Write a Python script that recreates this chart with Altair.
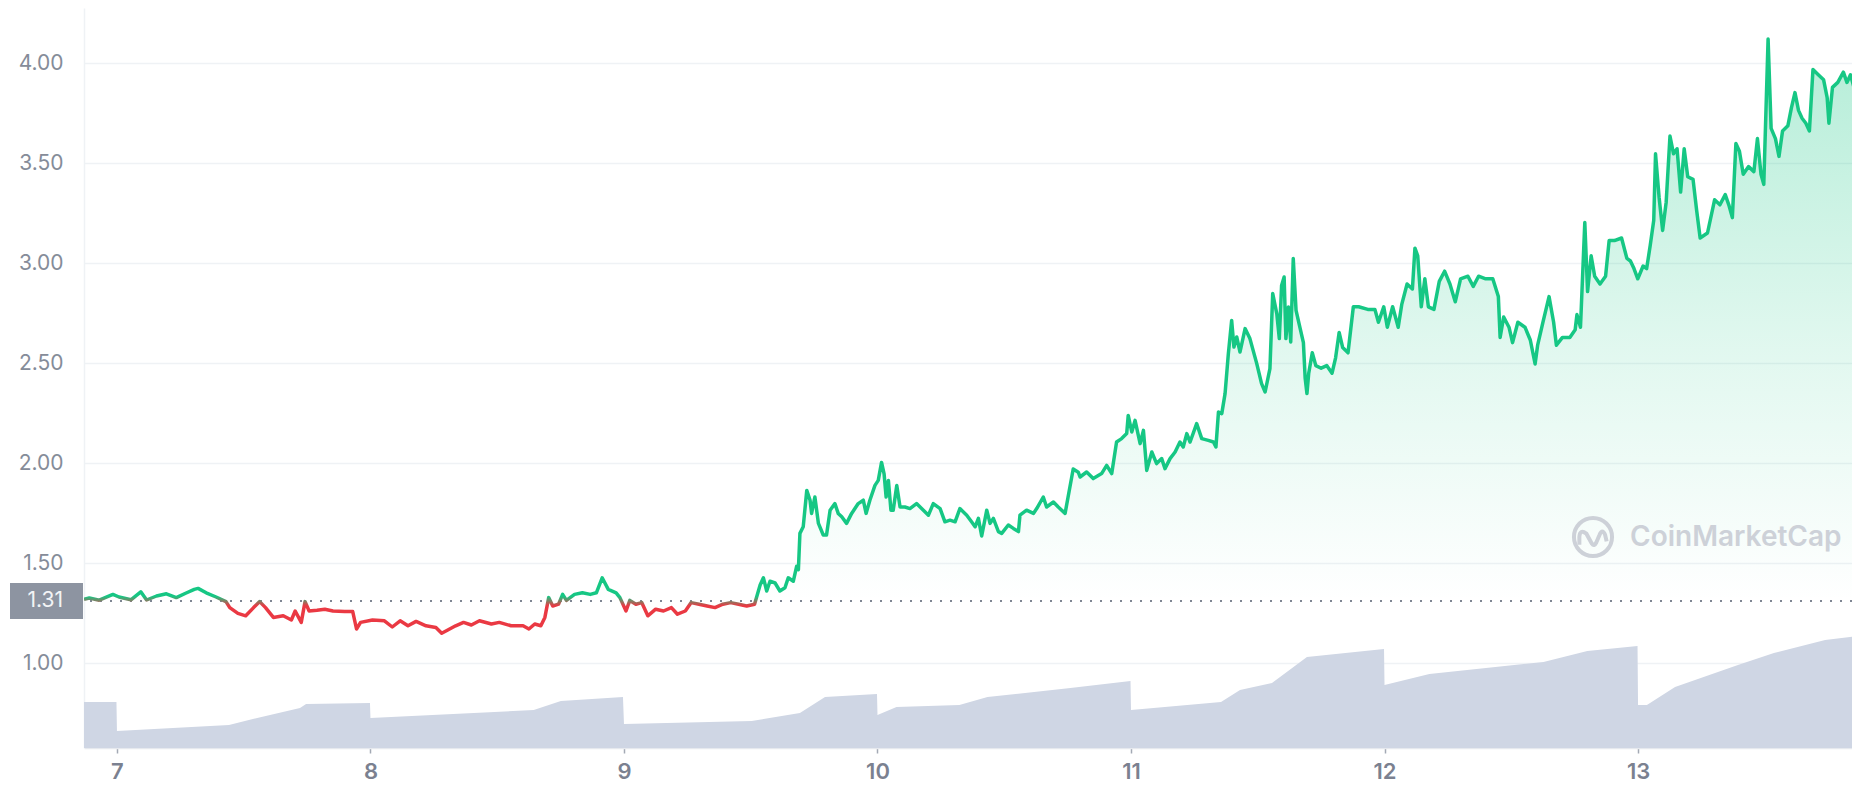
import altair as alt
import pandas as pd

# ---------------- data ----------------
days = [
    6.870, 6.891, 6.930, 6.984, 7.008, 7.055, 7.094, 7.117, 7.156, 7.195, 7.234, 7.273, 7.305, 7.320,
    7.352, 7.391, 7.430, 7.445, 7.477, 7.508, 7.539, 7.563, 7.586, 7.617, 7.656, 7.688, 7.703, 7.727,
    7.742, 7.758, 7.789, 7.820, 7.852, 7.898, 7.930, 7.945, 7.961, 8.008, 8.055, 8.086, 8.117, 8.148,
    8.180, 8.219, 8.258, 8.281, 8.305, 8.336, 8.367, 8.398, 8.430, 8.477, 8.508, 8.555, 8.602, 8.625,
    8.648, 8.672, 8.688, 8.703, 8.719, 8.742, 8.758, 8.773, 8.805, 8.836, 8.867, 8.891, 8.914, 8.938,
    8.969,
    8.984, 9.008, 9.023, 9.047, 9.070, 9.094, 9.125, 9.156, 9.187, 9.211, 9.242, 9.265, 9.296, 9.328,
    9.359, 9.390, 9.421, 9.452, 9.484, 9.515,
    9.537, 9.550, 9.563, 9.576, 9.596, 9.615, 9.635, 9.648, 9.668, 9.681, 9.688, 9.694, 9.707, 9.721,
    9.734, 9.740, 9.753, 9.767, 9.786, 9.799, 9.813, 9.832, 9.845, 9.859, 9.878, 9.898, 9.924, 9.944,
    9.955, 9.970, 9.990, 10.003, 10.016, 10.026, 10.034, 10.043, 10.053, 10.062, 10.076, 10.089,
    10.108, 10.128, 10.154, 10.181, 10.201, 10.220, 10.247, 10.266, 10.286, 10.306, 10.325, 10.352,
    10.371, 10.385, 10.398, 10.411, 10.431, 10.444, 10.457, 10.477, 10.490, 10.516, 10.536, 10.556,
    10.562, 10.588, 10.615, 10.628, 10.654, 10.667, 10.694, 10.713, 10.740, 10.759, 10.772, 10.792,
    10.799, 10.825, 10.851, 10.884, 10.904, 10.924, 10.943, 10.963, 10.983, 10.989, 11.003, 11.016,
    11.036, 11.049, 11.062, 11.082, 11.101, 11.121, 11.134, 11.154, 11.174, 11.193, 11.206, 11.220,
    11.233, 11.259, 11.279, 11.305, 11.325, 11.335, 11.345, 11.358, 11.371, 11.384, 11.397, 11.406,
    11.417, 11.430, 11.450, 11.469, 11.496, 11.515, 11.529, 11.548, 11.559, 11.575, 11.585, 11.594,
    11.604, 11.611, 11.621, 11.630, 11.640, 11.651,
    11.666, 11.680, 11.687, 11.694, 11.701, 11.715, 11.729, 11.750, 11.772, 11.793, 11.807, 11.821,
    11.835, 11.856, 11.877, 11.898, 11.934, 11.962, 11.976, 11.997, 12.011, 12.032, 12.054, 12.068,
    12.089, 12.110, 12.120, 12.131, 12.145, 12.159, 12.173, 12.195, 12.216, 12.237, 12.258, 12.279,
    12.300, 12.329, 12.350, 12.371, 12.399, 12.427, 12.449, 12.456, 12.470, 12.491, 12.505, 12.526,
    12.554, 12.575, 12.594, 12.604, 12.625, 12.649, 12.667, 12.678, 12.702, 12.731, 12.752, 12.759,
    12.773, 12.790, 12.801, 12.815, 12.829, 12.850, 12.872, 12.886, 12.907, 12.935, 12.956, 12.970,
    12.984, 12.999, 13.020, 13.034, 13.048, 13.062, 13.069, 13.083, 13.097, 13.111, 13.126, 13.140,
    13.154, 13.168, 13.182, 13.196, 13.217, 13.231, 13.245, 13.274, 13.302, 13.323, 13.344, 13.358,
    13.372, 13.386, 13.400, 13.415, 13.436, 13.457, 13.471, 13.485, 13.496, 13.513, 13.525, 13.542,
    13.556, 13.570, 13.591, 13.605, 13.619, 13.633, 13.647, 13.662, 13.676, 13.690, 13.711, 13.732,
    13.746, 13.753, 13.767, 13.788, 13.810, 13.824, 13.838, 13.852, 13.866,
]

price = [
    1.318, 1.325, 1.314, 1.343, 1.330, 1.316, 1.356, 1.315, 1.335, 1.346, 1.327, 1.350, 1.368, 1.373,
    1.351, 1.330, 1.307, 1.277, 1.248, 1.236, 1.277, 1.307, 1.277, 1.228, 1.236, 1.215, 1.260, 1.203,
    1.307, 1.260, 1.264, 1.269, 1.260, 1.257, 1.257, 1.170, 1.203, 1.215, 1.211, 1.180, 1.211, 1.186,
    1.208, 1.186, 1.178, 1.149, 1.165, 1.186, 1.203, 1.190, 1.211, 1.195, 1.203, 1.186, 1.186, 1.170,
    1.195, 1.186, 1.228, 1.327, 1.285, 1.294, 1.343, 1.313, 1.343, 1.351, 1.343, 1.351, 1.426, 1.368,
    1.351,
    1.327, 1.260, 1.313, 1.294, 1.302, 1.236, 1.269, 1.260, 1.277, 1.244, 1.260, 1.302, 1.294, 1.285,
    1.277, 1.294, 1.302, 1.294, 1.285, 1.294,
    1.390, 1.426, 1.360, 1.409, 1.400, 1.360, 1.376, 1.426, 1.409, 1.483, 1.467, 1.648, 1.681, 1.863,
    1.814, 1.748, 1.830, 1.698, 1.640, 1.640, 1.764, 1.797, 1.748, 1.731, 1.698, 1.748, 1.797, 1.814,
    1.748, 1.814, 1.888, 1.913, 2.003, 1.946, 1.830, 1.913, 1.764, 1.764, 1.888, 1.780,
    1.780, 1.772, 1.797, 1.764, 1.739, 1.797, 1.772, 1.706, 1.714, 1.706, 1.772, 1.739,
    1.706, 1.681, 1.723, 1.635, 1.764, 1.698, 1.723, 1.657, 1.648, 1.690, 1.673, 1.657,
    1.739, 1.764, 1.748, 1.772, 1.830, 1.780, 1.805, 1.780, 1.748, 1.880, 1.970, 1.954,
    1.930, 1.955, 1.922, 1.947, 1.988, 1.947, 2.105, 2.122, 2.147, 2.238, 2.155, 2.213,
    2.097, 2.163, 1.963, 2.055, 1.997, 2.022, 1.972, 2.022, 2.055, 2.105, 2.080, 2.147,
    2.105, 2.197, 2.122, 2.113, 2.105, 2.080, 2.255, 2.247, 2.347, 2.547, 2.713, 2.580,
    2.630, 2.555, 2.672, 2.622, 2.497, 2.397, 2.355, 2.472, 2.847, 2.747, 2.622, 2.888,
    2.930, 2.622, 2.780, 2.605, 3.022, 2.763,
    2.679, 2.602, 2.423, 2.347, 2.449, 2.551, 2.487, 2.474, 2.487, 2.449, 2.526, 2.653,
    2.577, 2.551, 2.781, 2.781, 2.768, 2.768, 2.704, 2.781, 2.679, 2.781, 2.679, 2.793,
    2.895, 2.870, 3.074, 3.036, 2.781, 2.921, 2.781, 2.768, 2.908, 2.959, 2.895, 2.806,
    2.921, 2.934, 2.883, 2.934, 2.921, 2.921, 2.832, 2.628, 2.730, 2.679, 2.602, 2.704,
    2.679, 2.615, 2.495, 2.589, 2.704, 2.832, 2.704, 2.589, 2.628, 2.628, 2.666, 2.742,
    2.679, 3.202, 2.857, 3.036, 2.934, 2.895, 2.934, 3.112, 3.112, 3.125, 3.023, 3.010,
    2.972, 2.921, 2.985, 2.972, 3.087, 3.214, 3.546, 3.329, 3.163, 3.304, 3.635, 3.546,
    3.571, 3.355, 3.571, 3.431, 3.418, 3.265, 3.125, 3.150, 3.316, 3.291, 3.342, 3.291,
    3.227, 3.597, 3.559, 3.444, 3.482, 3.457, 3.622, 3.444, 3.393, 4.120, 3.673, 3.622,
    3.533, 3.660, 3.686, 3.776, 3.852, 3.763, 3.724, 3.699, 3.660, 3.967, 3.941, 3.916,
    3.827, 3.699, 3.878, 3.903, 3.954, 3.903, 3.941, 3.878, 3.839,
]

vol_days = [
    6.870, 6.998, 7.000, 7.442, 7.536, 7.722, 7.746, 7.998,
    8.000, 8.644, 8.751, 8.996,
    9.000, 9.504, 9.694, 9.793, 9.998,
    10.000, 10.075, 10.323, 10.434, 10.761, 10.998,
    11.000, 11.355, 11.430, 11.556, 11.694, 11.998,
    12.000, 12.177, 12.627, 12.800, 12.998,
    13.000, 13.035, 13.146, 13.394, 13.536, 13.738, 13.866,
]
volume = [  # volume, $M
    23.0, 23.0, 8.5, 11.5, 14.5, 20.0, 22.0, 22.5,
    15.0, 19.0, 23.5, 25.5,
    12.0, 13.5, 17.5, 25.5, 27.0,
    16.5, 20.5, 21.5, 25.5, 30.0, 33.5,
    19.0, 23.0, 29.0, 32.5, 45.5, 49.5,
    31.5, 37.0, 43.0, 48.5, 51.0,
    21.5, 21.5, 30.5, 41.5, 47.5, 54.0, 56.0,
]

start_price = 1.31
start_label = ["1.31"]
x_ticks = [7, 8, 9, 10, 11, 12, 13]
y_ticks = [1.0, 1.5, 2.0, 2.5, 3.0, 3.5, 4.0]
watermark = ["CoinMarketCap"]

# ---------------- styling ----------------
GREEN = "#16c784"
RED = "#ea3943"
GRID = "#eff2f5"
FONT = "Inter"

df = pd.DataFrame({"day": days, "price": price})
vdf = pd.DataFrame({"day": vol_days, "volume": volume})
base_df = pd.DataFrame({"base": [start_price], "label": start_label})
wm_df = pd.DataFrame({"text": watermark})

pmax, pmin = max(price), min(price)
t = (pmax - start_price) / (pmax - pmin)

xscale = alt.Scale(domain=[6.87, 13.844], nice=False, zero=False)
yscale = alt.Scale(domain=[0.575, 4.275], nice=False, zero=False)

x_axis = alt.Axis(
    values=x_ticks, format="d", title=None, grid=False,
    labelFont=FONT, labelFontSize=22, labelFontWeight=600, labelColor="#7b8190",
    tickSize=5, tickColor="#a3a9b4", tickWidth=1.5,
    domainColor="#e6e9ee", domainWidth=1.5, labelPadding=8,
)
y_axis = alt.Axis(
    values=y_ticks, format=".2f", title=None, grid=True,
    gridColor=GRID, gridWidth=1.5,
    labelFont=FONT, labelFontSize=21, labelColor="#858c99",
    tickSize=0, labelPadding=21, domainColor=GRID, domainWidth=1.5,
)

X = alt.X("day:Q", scale=xscale, axis=x_axis)

vol_layer = alt.Chart(vdf).mark_area(color="#cfd6e4", clip=True).encode(
    x=X,
    y=alt.Y("volume:Q", scale=alt.Scale(domain=[0, 370]), axis=None),
)

fill_grad = alt.Gradient(
    gradient="linear", x1=0, x2=0, y1=0, y2=1,
    stops=[
        alt.GradientStop(color="rgba(22,199,132,0.32)", offset=0),
        alt.GradientStop(color="rgba(22,199,132,0.13)", offset=0.55),
        alt.GradientStop(color="rgba(22,199,132,0.0)", offset=1),
    ],
)
fill_layer = alt.Chart(df).transform_calculate(
    top=f"max(datum.price, {start_price})", bottom=f"{start_price}"
).mark_area(color=fill_grad, clip=True).encode(
    x=X,
    y=alt.Y("top:Q", scale=yscale, axis=y_axis),
    y2="bottom:Q",
)

dotted = alt.Chart(base_df).mark_rule(
    color="#7f8693", strokeDash=[2, 8], strokeWidth=1.8
).encode(y=alt.Y("base:Q", scale=yscale))

line_grad = alt.Gradient(
    gradient="linear", x1=0, x2=0, y1=0, y2=1,
    stops=[
        alt.GradientStop(color=GREEN, offset=0),
        alt.GradientStop(color=GREEN, offset=max(0, t - 0.008)),
        alt.GradientStop(color=RED, offset=min(1, t + 0.008)),
        alt.GradientStop(color=RED, offset=1),
    ],
)
line_layer = alt.Chart(df).mark_line(
    color=line_grad, strokeWidth=3.5, clip=True, strokeJoin="round"
).encode(x=X, y=alt.Y("price:Q", scale=yscale))

box = alt.Chart(base_df).mark_point(
    shape="M-1,-0.49 L1,-0.49 L1,0.49 L-1,0.49 Z",
    filled=True, opacity=1, color="#8d94a1", size=73 * 73,
).encode(x=alt.value(-37.5), y=alt.Y("base:Q", scale=yscale))

box_text = alt.Chart(base_df).mark_text(
    align="right", baseline="middle", font=FONT, fontSize=21, color="#f3f4f6"
).encode(x=alt.value(-21), y=alt.Y("base:Q", scale=yscale), text="label:N")

logo_ring = alt.Chart(wm_df).mark_point(
    shape="circle", filled=False, size=1450, strokeWidth=4, color="#cdd1d8", opacity=1
).encode(x=alt.value(1509), y=alt.value(529))
logo_m = alt.Chart(wm_df).mark_point(
    shape="M-0.62,0.35 L-0.62,0.0 Q-0.6,-0.38 -0.3,-0.15 L-0.05,0.3 Q0.05,0.45 0.15,0.25 L0.3,-0.1 Q0.42,-0.4 0.55,-0.1 L0.62,0.2",
    filled=False, size=1936, strokeWidth=4, color="#cdd1d8", opacity=1,
).encode(x=alt.value(1509), y=alt.value(529))
wm_text = alt.Chart(wm_df).mark_text(
    align="left", baseline="middle", font=FONT, fontSize=28, fontWeight=600, color="#cdd1d8"
).encode(x=alt.value(1546), y=alt.value(530), text="text:N")

price_layers = alt.layer(
    fill_layer, dotted, line_layer, box, box_text, logo_ring, logo_m, wm_text
)

chart = alt.layer(vol_layer, price_layers).resolve_scale(y="independent").properties(
    width=1768,
    height=740,
    autosize=alt.AutoSizeParams(type="none"),
    padding={"left": 76, "top": 0, "right": 0, "bottom": 44},
    background="white",
).configure_view(stroke=None)

chart.save("out.html", embed_options={"renderer": "svg", "actions": False})
